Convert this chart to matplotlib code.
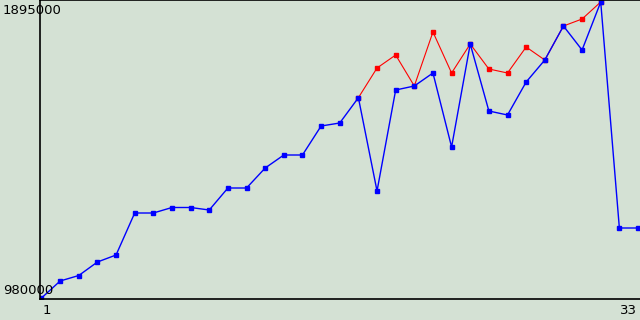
import matplotlib.pyplot as plt
import numpy as np

bg = '#d4e1d4'

x_blue = np.arange(1, 34)
blue = [980000, 1032550, 1049550, 1091280, 1112920, 1242750, 1242750, 1259750,
        1259750, 1252030, 1320030, 1320030, 1381860, 1422040, 1422040, 1511690,
        1520960, 1599170, 1310760, 1622970, 1635340, 1675520, 1446770, 1765170,
        1558060, 1545690, 1647700, 1715710, 1820810, 1746620, 1895000, 1196390,
        1196390]

x_red = np.arange(18, 32)
red = [1599170, 1690980, 1731170, 1635340, 1802260, 1675520, 1765170, 1687890,
       1675520, 1755900, 1715710, 1820810, 1842450, 1895000]

y_labels = ['980000', '1895000']
x_labels = ['1', '33']

fig = plt.figure(figsize=(6.4, 3.2), dpi=100, facecolor=bg)
ax = fig.add_axes([40/640, 21/320, 600/640, 299/320])
ax.set_facecolor(bg)

ax.plot(x_red, red, color='red', lw=0.8, marker='s', ms=2.2, mec='red', mfc='red')
ax.plot(x_blue, blue, color='blue', lw=1.0, marker='s', ms=2.2, mec='blue', mfc='blue')

ax.set_xlim(1 - 1.5/18.66, 33 + 2/18.66)
ax.set_ylim(980000 - 3091, 1895000 + 2*3091)
ax.set_xticks([])
ax.set_yticks([])
for s in ['left', 'bottom', 'top']:
    ax.spines[s].set_color('black')
    ax.spines[s].set_linewidth(1.2)
ax.spines['right'].set_visible(False)

fig.text(3/640, 1 - 10/320, y_labels[1], fontsize=9.5, ha='left', va='center')
fig.text(3/640, 1 - 291/320, y_labels[0], fontsize=9.5, ha='left', va='center')
fig.text(47/640, 1 - 311/320, x_labels[0], fontsize=9.5, ha='center', va='center')
fig.text(628/640, 1 - 311/320, x_labels[1], fontsize=9.5, ha='center', va='center')

fig.savefig('out.png', dpi=100, facecolor=bg)
